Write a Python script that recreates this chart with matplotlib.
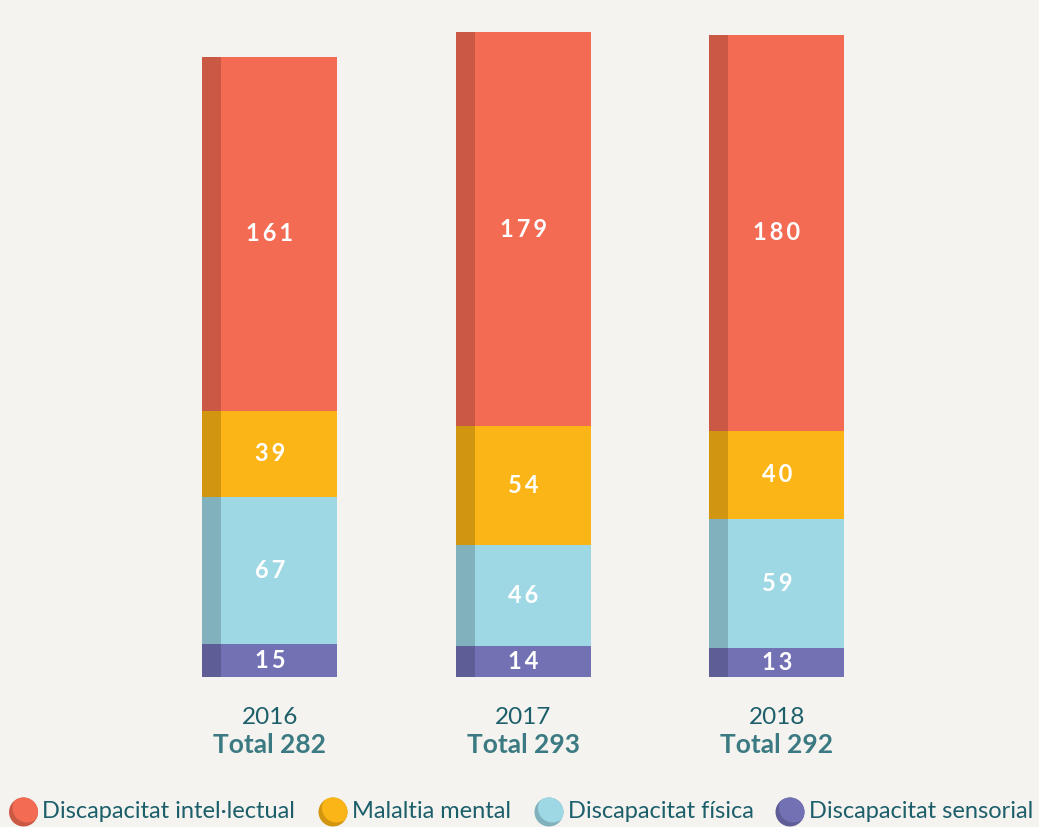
import matplotlib
matplotlib.use("Agg")
import matplotlib.pyplot as plt
from matplotlib.patches import Circle
import numpy as np

# dades
anys = ["2016", "2017", "2018"]
totals = [282, 293, 292]
categories = ["Discapacitat intel·lectual", "Malaltia mental",
              "Discapacitat física", "Discapacitat sensorial"]
sensorial = [15, 14, 13]
fisica = [67, 46, 59]
mental = [39, 54, 40]
intellectual = [161, 179, 180]

# colors (clar, fosc)
c_int = ("#f26b52", "#c95844")
c_men = ("#fbb516", "#d1950f")
c_fis = ("#9ed8e5", "#80b1bc")
c_sen = ("#7271b3", "#5f5d96")
fons = "#f5f3ef"
teal = "#1c5f6b"
teal2 = "#3b7a82"

plt.rcParams['font.family'] = ['Lato', 'DejaVu Sans']

fig = plt.figure(figsize=(10.39, 8.27), dpi=100, facecolor=fons)
ax = fig.add_axes([0, 150/827, 1, 677/827])
ax.set_facecolor(fons)
ax.set_xlim(-1.065, 3.034)
ax.set_ylim(0, 677/2.2)
ax.axis("off")

x = np.arange(len(anys))
amplada = 0.5325
franja = 0.075
capes = [(sensorial, c_sen), (fisica, c_fis), (mental, c_men), (intellectual, c_int)]
base = np.zeros(len(anys))
for vals, (clar, fosc) in capes:
    vals = np.array(vals)
    ax.bar(x, vals, amplada, bottom=base, color=clar, linewidth=0)
    ax.bar(x - amplada/2, vals, franja, bottom=base, color=fosc, linewidth=0, align="edge")
    for xi, b, v in zip(x, base, vals):
        ax.text(xi, b + v/2, "\u2009".join(str(v)), ha="center", va="center", color="white",
                fontsize=17, fontweight="bold")
    base = base + vals

for xi, a, t in zip(x, anys, totals):
    ax.annotate(a, (xi, 110), xycoords=("data", "figure pixels"), ha="center",
                va="center", fontsize=17.5, color=teal)
    ax.annotate("Total %d" % t, (xi, 82), xycoords=("data", "figure pixels"),
                ha="center", va="center", fontsize=19, color=teal2, fontweight="bold")

# llegenda
lax = fig.add_axes([0, 0, 1, 1])
lax.set_xlim(0, 1039)
lax.set_ylim(0, 827)
lax.axis("off")
cx_llegenda = [23.5, 333, 549, 790]
for cx, nom, (clar, fosc) in zip(cx_llegenda, categories, [c_int, c_men, c_fis, c_sen]):
    cy = 15
    r = 14.5
    fonsc = Circle((cx, cy), r, color=fosc, lw=0)
    lax.add_patch(fonsc)
    davant = Circle((cx + 3.5, cy + 4), r, color=clar, lw=0)
    lax.add_patch(davant)
    davant.set_clip_path(fonsc)
    lax.text(cx + 19, cy, nom, ha="left", va="center", fontsize=17, color=teal)

fig.savefig("out.png", dpi=100, facecolor=fons)
